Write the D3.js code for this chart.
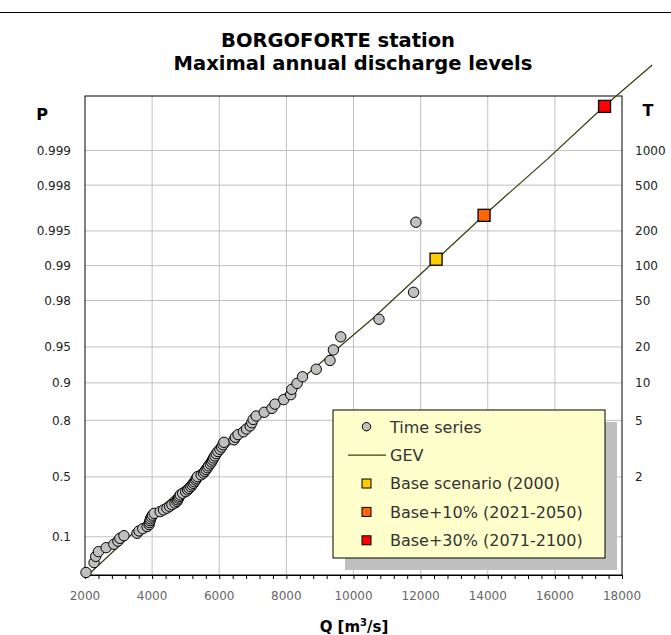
<!DOCTYPE html>
<html>
<head>
<meta charset="utf-8">
<script src="https://cdn.jsdelivr.net/npm/d3@7"></script>
<style>
  body { margin: 0; background: #ffffff; }
  svg { display: block; font-family: 'DejaVu Sans', Verdana, sans-serif; }
</style>
</head>
<body>
<div id="chart"></div>
<script>
// Observed annual maxima (sorted) with their plotting positions
const seriesQ = [
  2030, 2270, 2320, 2400, 2630, 2860, 2980, 3040, 3160, 3550,
  3610, 3720, 3850, 3910, 3920, 3940, 3950, 3980, 4010, 4060,
  4240, 4340, 4440, 4520, 4590, 4680, 4740, 4760, 4790, 4810,
  4840, 4910, 5000, 5060, 5100, 5150, 5190, 5230, 5260, 5300,
  5320, 5350, 5460, 5530, 5570, 5610, 5650, 5680, 5730, 5770,
  5800, 5830, 5870, 5910, 5960, 6020, 6070, 6110, 6140, 6440,
  6480, 6560, 6720, 6810, 6920, 6970, 7010, 7100, 7340, 7570,
  7660, 7920, 8130, 8160, 8320, 8480, 8890, 9300, 9400, 9620,
  10760, 11790, 11860
]
const seriesP = [
  0.009, 0.021, 0.033, 0.045, 0.057, 0.069, 0.081, 0.093, 0.105, 0.117,
  0.129, 0.141, 0.153, 0.165, 0.177, 0.189, 0.201, 0.213, 0.225, 0.237,
  0.249, 0.261, 0.273, 0.286, 0.298, 0.310, 0.322, 0.334, 0.346, 0.358,
  0.370, 0.382, 0.394, 0.406, 0.418, 0.430, 0.442, 0.454, 0.466, 0.478,
  0.490, 0.502, 0.514, 0.526, 0.538, 0.550, 0.562, 0.574, 0.586, 0.598,
  0.610, 0.622, 0.634, 0.647, 0.659, 0.671, 0.683, 0.695, 0.707, 0.719,
  0.731, 0.743, 0.755, 0.767, 0.779, 0.791, 0.803, 0.815, 0.827, 0.839,
  0.851, 0.863, 0.875, 0.887, 0.899, 0.911, 0.923, 0.935, 0.947, 0.959,
  0.971, 0.983, 0.9958
]

// GEV fitted curve
const gevQ = [2090, 3430, 5430, 8410, 10590, 12460, 13890, 15760, 17480, 18900]
const gevP = [0.007, 0.118, 0.536, 0.905, 0.9717, 0.9911, 0.99635, 0.9988, 0.99959, 0.99982]

// Scenarios
const scenarioNames = ['Base scenario (2000)', 'Base+10% (2021-2050)', 'Base+30% (2071-2100)']
const scenarioQ = [12460, 13890, 17480]
const scenarioP = [0.9912, 0.99634, 0.999587]
const scenarioColors = ['#ffcc00', '#ff6600', '#ff0000']

// Axes
const pTicks = [0.1, 0.5, 0.8, 0.9, 0.95, 0.98, 0.99, 0.995, 0.998, 0.999]
const tTicks = ['', '2', '5', '10', '20', '50', '100', '200', '500', '1000']
const xTicks = [2000, 4000, 6000, 8000, 10000, 12000, 14000, 16000, 18000]

const width = 671
const height = 635
const plot = { left: 85, right: 622, top: 96, bottom: 575 }

// Gumbel reduced variate
const gumbel = p => -Math.log(-Math.log(p))

const x = d3.scaleLinear().domain([2000, 18000]).range([plot.left, plot.right])
const y = d3.scaleLinear().domain([-1.6, 8]).range([plot.bottom, plot.top])
const yP = p => y(gumbel(p))

const svg = d3.select('#chart')
  .append('svg')
  .attr('width', width)
  .attr('height', height)

svg.append('rect')
  .attr('width', width)
  .attr('height', height)
  .attr('fill', '#ffffff')

// line across the top
svg.append('line')
  .attr('x1', 0).attr('x2', width)
  .attr('y1', 12.5).attr('y2', 12.5)
  .attr('stroke', '#000')
  .attr('stroke-width', 1)

// Title
svg.append('text')
  .attr('x', 338).attr('y', 47)
  .attr('text-anchor', 'middle')
  .attr('font-size', '19.5px')
  .attr('font-weight', 'bold')
  .text('BORGOFORTE station')
svg.append('text')
  .attr('x', 353).attr('y', 70)
  .attr('text-anchor', 'middle')
  .attr('font-size', '19.5px')
  .attr('font-weight', 'bold')
  .text('Maximal annual discharge levels')

// Gridlines
const grid = svg.append('g')
grid.selectAll('.hgrid')
  .data(pTicks)
  .enter()
  .append('line')
  .attr('x1', plot.left).attr('x2', plot.right)
  .attr('y1', d => yP(d)).attr('y2', d => yP(d))
  .attr('stroke', '#c0c0c0')
  .attr('stroke-width', 1)
grid.selectAll('.vgrid')
  .data(xTicks.slice(1, -1))
  .enter()
  .append('line')
  .attr('x1', d => x(d)).attr('x2', d => x(d))
  .attr('y1', plot.top).attr('y2', plot.bottom)
  .attr('stroke', '#c0c0c0')
  .attr('stroke-width', 1)

// Plot frame
svg.append('rect')
  .attr('x', plot.left).attr('y', plot.top)
  .attr('width', plot.right - plot.left)
  .attr('height', plot.bottom - plot.top)
  .attr('fill', 'none')
  .attr('stroke', '#000')
  .attr('stroke-width', 1)

// Bottom axis with minor ticks every 400
const xAxis = d3.axisBottom(x)
  .tickValues(d3.range(2000, 18001, 400))
  .tickSize(4)
  .tickFormat('')
svg.append('g')
  .attr('transform', `translate(0,${plot.bottom})`)
  .call(xAxis)
  .call(g => g.select('.domain').attr('stroke', '#000'))
  .call(g => g.selectAll('.tick line').attr('stroke', '#000'))

svg.append('g')
  .selectAll('text')
  .data(xTicks)
  .enter()
  .append('text')
  .attr('x', d => x(d))
  .attr('y', 600)
  .attr('text-anchor', 'middle')
  .attr('font-size', '12px')
  .attr('fill', '#666')
  .text(d => d)

// Left P labels
svg.append('g')
  .selectAll('text')
  .data(pTicks)
  .enter()
  .append('text')
  .attr('x', 71)
  .attr('y', d => yP(d) + 4.5)
  .attr('text-anchor', 'end')
  .attr('font-size', '12px')
  .attr('fill', '#222')
  .text(d => d)

// Right T labels
svg.append('g')
  .selectAll('text')
  .data(pTicks)
  .enter()
  .append('text')
  .attr('x', 635)
  .attr('y', d => yP(d) + 4.5)
  .attr('font-size', '12px')
  .attr('fill', '#222')
  .text((d, i) => tTicks[i])

svg.append('text')
  .attr('x', 42).attr('y', 120)
  .attr('text-anchor', 'middle')
  .attr('font-size', '16px')
  .attr('font-weight', 'bold')
  .text('P')
svg.append('text')
  .attr('x', 648).attr('y', 116)
  .attr('text-anchor', 'middle')
  .attr('font-size', '16px')
  .attr('font-weight', 'bold')
  .text('T')

// Axis title Q [m3/s]
const qLabel = svg.append('text')
  .attr('x', 354).attr('y', 632)
  .attr('text-anchor', 'middle')
  .attr('font-size', '15px')
  .attr('font-weight', 'bold')
qLabel.append('tspan').text('Q [m')
qLabel.append('tspan').attr('dy', -6).attr('font-size', '10px').text('3')
qLabel.append('tspan').attr('dy', 6).text('/s]')

// GEV curve
const gevLine = d3.line()
  .x(d => x(d[0]))
  .y(d => yP(d[1]))
svg.append('path')
  .datum(gevQ.map((q, i) => [q, gevP[i]]))
  .attr('d', gevLine)
  .attr('fill', 'none')
  .attr('stroke', '#3f3f12')
  .attr('stroke-width', 1.3)

// Time series points
svg.append('g')
  .selectAll('circle')
  .data(seriesQ.map((q, i) => [q, seriesP[i]]))
  .enter()
  .append('circle')
  .attr('cx', d => x(d[0]))
  .attr('cy', d => yP(d[1]))
  .attr('r', 5.2)
  .attr('fill', '#c0c0c0')
  .attr('stroke', '#000')
  .attr('stroke-width', 1)

// Scenario squares
const sq = 12
svg.append('g')
  .selectAll('rect')
  .data(scenarioQ.map((q, i) => [q, scenarioP[i], scenarioColors[i]]))
  .enter()
  .append('rect')
  .attr('x', d => x(d[0]) - sq / 2)
  .attr('y', d => yP(d[1]) - sq / 2)
  .attr('width', sq)
  .attr('height', sq)
  .attr('fill', d => d[2])
  .attr('stroke', '#000')
  .attr('stroke-width', 1.3)

// Legend
const legend = { x: 333, y: 410, w: 272, h: 148 }
svg.append('rect')
  .attr('x', legend.x + 12).attr('y', legend.y + 12)
  .attr('width', legend.w).attr('height', legend.h)
  .attr('fill', '#c0c0c0')
svg.append('rect')
  .attr('x', legend.x).attr('y', legend.y)
  .attr('width', legend.w).attr('height', legend.h)
  .attr('fill', '#ffffcc')
  .attr('stroke', '#000')
  .attr('stroke-width', 1)

const rowY = i => 426.7 + i * 28.4
const markX = 366.5
const lg = svg.append('g')

lg.append('circle')
  .attr('cx', markX).attr('cy', rowY(0))
  .attr('r', 4.2)
  .attr('fill', '#c0c0c0')
  .attr('stroke', '#000')
lg.append('line')
  .attr('x1', 348).attr('x2', 386)
  .attr('y1', rowY(1)).attr('y2', rowY(1))
  .attr('stroke', '#3f3f12')
  .attr('stroke-width', 1.3)
lg.selectAll('.lsq')
  .data(scenarioColors)
  .enter()
  .append('rect')
  .attr('x', markX - 4.5)
  .attr('y', (d, i) => rowY(i + 2) - 4.5)
  .attr('width', 9).attr('height', 9)
  .attr('fill', d => d)
  .attr('stroke', '#000')
  .attr('stroke-width', 1)

lg.selectAll('.ltext')
  .data(['Time series', 'GEV'].concat(scenarioNames))
  .enter()
  .append('text')
  .attr('x', 390)
  .attr('y', (d, i) => rowY(i) + 5.8)
  .attr('font-size', '16px')
  .attr('fill', '#333')
  .text(d => d)
</script>
</body>
</html>
